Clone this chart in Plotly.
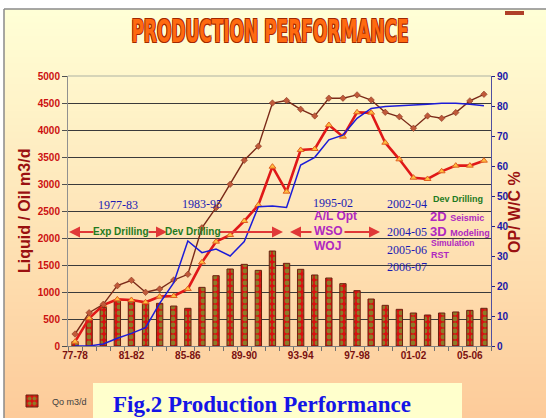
import plotly.graph_objects as go

categories = ["77-78", "78-79", "79-80", "80-81", "81-82", "82-83", "83-84", "84-85",
              "85-86", "86-87", "87-88", "88-89", "89-90", "90-91", "91-92", "92-93",
              "93-94", "94-95", "95-96", "96-97", "97-98", "98-99", "99-00", "00-01",
              "01-02", "02-03", "03-04", "04-05", "05-06", "06-07"]
tick_labels = ["77-78", "81-82", "85-86", "89-90", "93-94", "97-98", "01-02", "05-06"]

oil_qo = [80, 513, 716, 852, 852, 790, 790, 740, 698, 1086, 1302, 1426, 1512, 1401, 1759,
          1531, 1420, 1315, 1259, 1154, 1025, 870, 753, 679, 611, 574, 611, 630, 660, 698]
liquid = [80, 513, 759, 864, 852, 809, 914, 926, 1056, 1549, 1932, 2056, 2315, 2611, 3321,
          2858, 3630, 3648, 4093, 3877, 4327, 4321, 3765, 3457, 3117, 3093, 3235, 3340, 3340, 3432]
water_cut = [4.0, 11.1, 13.9, 20.1, 21.9, 17.9, 19.0, 22.0, 23.9, 39.4, 46.1, 53.9, 61.9, 66.6, 81.0,
             81.8, 78.9, 76.7, 82.6, 82.6, 83.7, 82.0, 77.9, 76.4, 72.6, 76.7, 75.9, 77.8, 81.7, 83.9]
op_count = [0, 0, 0.7, 2.6, 4.2, 6.1, 14.2, 21.1, 35.0, 31.1, 32.3, 30.0, 34.8, 46.4, 46.7,
            46.2, 60.3, 62.9, 68.7, 70.3, 75.9, 79.2, 79.8, 80.0, 80.3, 80.6, 80.9, 80.9, 80.6, 80.1]

W, H = 546, 418
L, R, T, B = 68, 55, 76, 72
PW, PH = W - L - R, H - T - B


def px(X):
    return (X - L) / PW


def py(Y):
    return (H - B - Y) / PH


fig = go.Figure()

fig.add_trace(go.Bar(
    x=categories, y=oil_qo, name="Qo m3/d", width=0.45,
    marker=dict(color="#D81010", line=dict(color="#6A2010", width=1),
                pattern=dict(shape=".", fgcolor="#40E840", bgcolor="#D81010", size=6, solidity=0.5)),
    yaxis="y"))
fig.add_trace(go.Scatter(
    x=categories, y=liquid, mode="lines+markers", name="Ql m3/d", showlegend=False,
    line=dict(color="#E01818", width=2.6),
    marker=dict(symbol="triangle-up", size=6, color="#FFC040", line=dict(color="#E06020", width=1)),
    yaxis="y"))
fig.add_trace(go.Scatter(
    x=categories, y=water_cut, mode="lines+markers", name="W/C %", showlegend=False,
    line=dict(color="#7A2A18", width=1.4),
    marker=dict(symbol="diamond", size=5, color="#C05A3A", line=dict(color="#7A2A18", width=0.5)),
    yaxis="y2"))
fig.add_trace(go.Scatter(
    x=categories, y=op_count, mode="lines", name="OP", showlegend=False,
    line=dict(color="#1C1CD8", width=1.5),
    yaxis="y2"))

shapes = []
# background gradient
n = 60
y_top, y_bot = 9, H
c0 = (0xFF, 0xFF, 0xD6)
c1 = (0xFD, 0xCB, 0x9A)
for i in range(n):
    t = i / (n - 1)
    col = tuple(round(c0[k] + (c1[k] - c0[k]) * t) for k in range(3))
    ya = y_top + (y_bot - y_top) * i / n
    yb = y_top + (y_bot - y_top) * (i + 1) / n + 1
    shapes.append(dict(type="rect", xref="paper", yref="paper", layer="below",
                       x0=px(4), x1=px(W + 2), y0=py(ya), y1=py(min(yb, H + 2)),
                       fillcolor="rgb(%d,%d,%d)" % col, line=dict(width=0)))
# outer frame lines
shapes.append(dict(type="line", xref="paper", yref="paper", x0=px(4), x1=px(W + 2), y0=py(9), y1=py(9),
                   line=dict(color="#8A8A8A", width=1.5)))
shapes.append(dict(type="line", xref="paper", yref="paper", x0=px(4), x1=px(4), y0=py(9), y1=py(H + 2),
                   line=dict(color="#8A8A8A", width=1.5)))
shapes.append(dict(type="rect", xref="paper", yref="paper", x0=px(505), x1=px(524), y0=py(15), y1=py(11),
                   fillcolor="#B04028", line=dict(width=0)))
# plot frame top
shapes.append(dict(type="line", xref="paper", yref="paper", x0=0, x1=1, y0=1, y1=1,
                   line=dict(color="#C8C8B0", width=1.5)))
# caption box
shapes.append(dict(type="rect", xref="paper", yref="paper", x0=px(93), x1=px(462), y0=py(383), y1=py(H + 2),
                   fillcolor="#FFFFCC", line=dict(width=0)))

ay_pix = 232
arrow_col = "#E03838"
annotations = []


def arrow(x_head, x_tail):
    annotations.append(dict(xref="paper", yref="paper", x=px(x_head), y=py(ay_pix),
                            ax=x_tail - x_head, ay=0, text="", showarrow=True,
                            arrowhead=2, arrowsize=1.1, arrowwidth=2, arrowcolor=arrow_col))


arrow(69, 95)
arrow(167, 147)
arrow(283, 218)
arrow(290, 313)
arrow(380, 343)


def txt(s, X, Y, color, size, family, anchor="center", bold=True):
    annotations.append(dict(xref="paper", yref="paper", x=px(X), y=py(Y), text=s, showarrow=False,
                            xanchor=anchor, yanchor="middle",
                            font=dict(color=color, size=size, family=family,
                                      weight="bold" if bold else "normal")))


sans = "Liberation Sans, Arial, sans-serif"
serif = "Liberation Serif, Times New Roman, serif"
blue = "#1A1AB4"
green = "#1E7A1E"
purple = "#B028C0"

txt("Exp Drilling", 121, ay_pix, green, 10, sans)
txt("Dev Drilling", 193, ay_pix, green, 10, sans)
txt("1977-83", 118, 205, blue, 12, serif, bold=False)
txt("1983-95", 202, 204, blue, 12, serif, bold=False)
txt("1995-02", 333, 203, blue, 12, serif, bold=False)
txt("A/L Opt", 312, 216, purple, 12, sans, anchor="left")
txt("WSO", 312, 231, purple, 12, sans, anchor="left")
txt("WOJ", 312, 246, purple, 12, sans, anchor="left")
txt("2002-04", 407, 204, blue, 12, serif, bold=False)
txt("2004-05", 407, 232, blue, 12, serif, bold=False)
txt("2005-06", 407, 250, blue, 12, serif, bold=False)
txt("2006-07", 407, 267, blue, 12, serif, bold=False)
txt("Dev Drilling", 431, 199, green, 9, sans, anchor="left")
txt("2D <span style='font-size:9px'>Seismic</span>", 428, 216, purple, 13, sans, anchor="left")
txt("3D <span style='font-size:9px'>Modeling</span>", 428, 231, purple, 13, sans, anchor="left")
txt("Simulation", 429, 243, purple, 8.5, sans, anchor="left")
txt("RST", 429, 255, purple, 9, sans, anchor="left")

# title
annotations.append(dict(xref="paper", yref="paper", x=px(270), y=py(31), text="PRODUCTION PERFORMANCE",
                        showarrow=False, xanchor="center", yanchor="middle",
                        font=dict(family="DejaVu Sans Condensed, Liberation Sans Narrow, Arial Narrow, sans-serif",
                                  size=32, color="#FF6A10", weight="bold",
                                  shadow="1px 1px 0 #A02800, -1px -1px 0 #A02800, 1px -1px 0 #A02800, -1px 1px 0 #A02800")))
# axis titles
annotations.append(dict(xref="paper", yref="paper", x=px(24), y=py(211), text="Liquid / Oil m3/d",
                        showarrow=False, textangle=-90, xanchor="center", yanchor="middle",
                        font=dict(family=sans, size=16, color="#9A1010", weight="bold")))
annotations.append(dict(xref="paper", yref="paper", x=px(514), y=py(212), text="OP/ W/C %",
                        showarrow=False, textangle=-90, xanchor="center", yanchor="middle",
                        font=dict(family=sans, size=16, color="#9A1010", weight="bold")))
# caption
annotations.append(dict(xref="paper", yref="paper", x=px(262), y=py(404), text="Fig.2 Production Performance",
                        showarrow=False, xanchor="center", yanchor="middle",
                        font=dict(family=serif, size=23, color="#1414E6", weight="bold")))

ticktext = [c if c in tick_labels else "" for c in categories]

fig.update_layout(
    width=W, height=H, autosize=False,
    margin=dict(l=L, r=R, t=T, b=B, pad=0, autoexpand=False),
    paper_bgcolor="#FFFFFF", plot_bgcolor="#FFFFE8",
    shapes=shapes, annotations=annotations,
    showlegend=True,
    legend=dict(x=px(12), y=py(401), xanchor="left", yanchor="middle", bgcolor="rgba(0,0,0,0)",
                font=dict(family=sans, size=9, color="#404040"), itemwidth=30),
    xaxis=dict(type="category", categoryorder="array", categoryarray=categories, range=[-0.5, 29.5],
               tickmode="array", tickvals=categories, ticktext=ticktext, tickson="boundaries",
               ticks="outside", ticklen=4, tickcolor="#707070", showline=True, linecolor="#808080",
               showgrid=False, tickangle=0,
               tickfont=dict(family=sans, size=10, color="#7A1010", weight="bold")),
    yaxis=dict(range=[0, 5000], dtick=500, showgrid=True, gridcolor="#3A3A3A", gridwidth=1,
               ticks="outside", ticklen=5, tickcolor="#505050", showline=True, linecolor="#909090",
               zeroline=False, tickfont=dict(family=sans, size=10, color="#CC1010", weight="bold")),
    yaxis2=dict(range=[0, 90], dtick=10, overlaying="y", side="right", showgrid=False,
                ticks="outside", ticklen=3, tickcolor="#20208A", showline=True, linecolor="#5050A0",
                zeroline=False, tickfont=dict(family=sans, size=10, color="#1818A8", weight="bold")),
)

post = """
document.body.style.margin = '0';
var tt = Array.from(document.querySelectorAll('text.annotation-text')).filter(function(e){return e.textContent === 'PRODUCTION PERFORMANCE';});
tt.forEach(function(t){
  t.style.transformBox = 'fill-box';
  t.style.transformOrigin = 'center';
  t.style.transform = 'scale(0.59, 1)';
});
"""

fig.write_html("out.html", post_script=post, config={"displayModeBar": False})
